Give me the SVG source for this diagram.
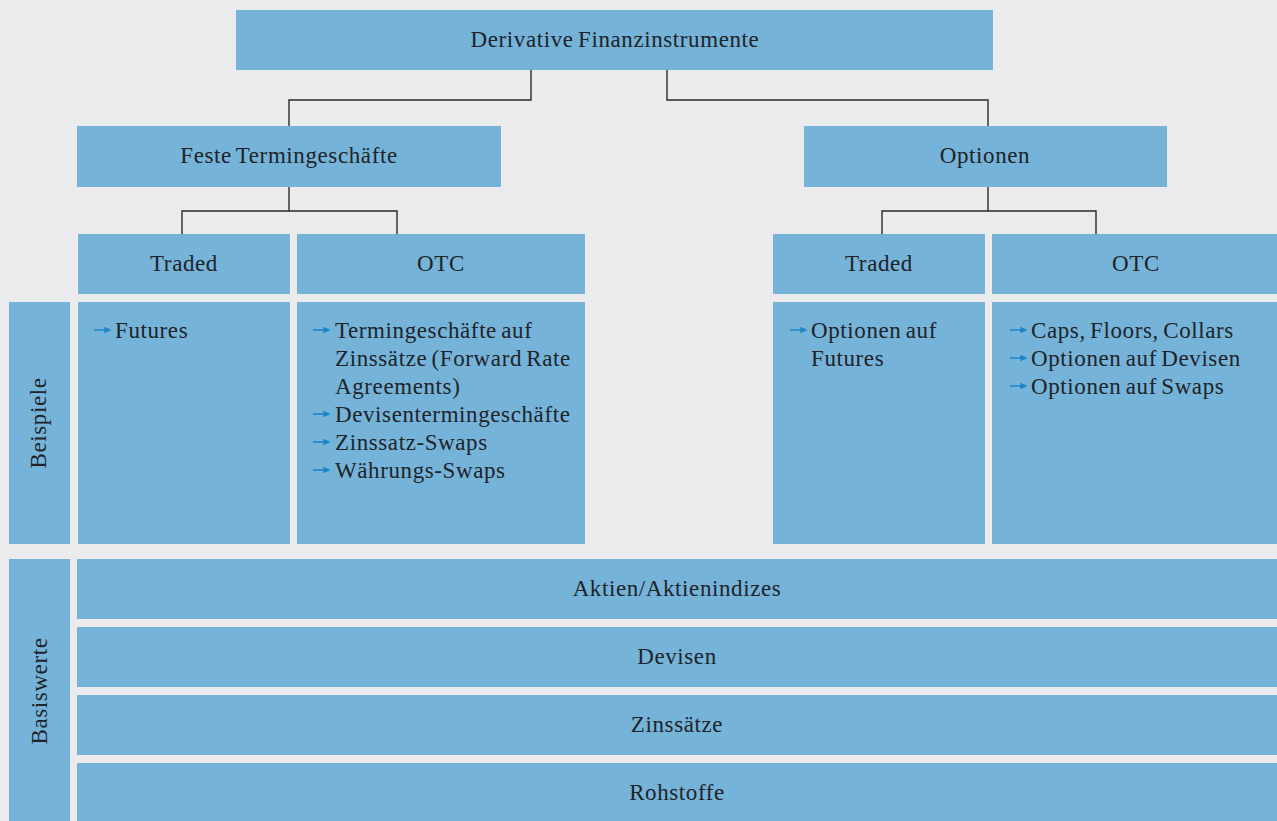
<svg xmlns="http://www.w3.org/2000/svg" width="1277" height="821" viewBox="0 0 1277 821">
  <defs>
    <!-- small blue bullet arrow -->
    <path id="bullet" d="M0,0 H12 M11,-2.2 L16,0 L11,2.2 Z" stroke="#1a86c8" stroke-width="1.3" fill="#1a86c8"/>
  </defs>
  <style>
    .box { fill: #75b3d9; }
    .lbl { font-family: "Liberation Serif", "DejaVu Serif", serif; font-size: 23px; letter-spacing: 0.6px; word-spacing: -2px; fill: #202328; }
    .c { text-anchor: middle; }
    .wire { fill: none; stroke: #2b2b2e; stroke-width: 1.4; }
  </style>
  <rect width="1277" height="821" fill="#ebebed"/>

  <!-- connectors -->
  <g id="connectors" class="wire">
    <polyline points="531,70 531,100 289,100 289,126"/>
    <polyline points="667,70 667,100 988,100 988,126"/>
    <polyline points="289,187 289,211 182,211 182,234"/>
    <polyline points="289,211 397,211 397,234"/>
    <polyline points="988,187 988,211 882,211 882,234"/>
    <polyline points="988,211 1096,211 1096,234"/>
  </g>

  <g id="root">
    <rect class="box" x="236" y="10" width="757" height="60"/>
    <text class="lbl c" x="615" y="47">Derivative Finanzinstrumente</text>
  </g>

  <g id="feste">
    <rect class="box" x="77" y="126" width="424" height="61"/>
    <text class="lbl c" x="289" y="163">Feste Termingeschäfte</text>
  </g>
  <g id="optionen">
    <rect class="box" x="804" y="126" width="363" height="61"/>
    <text class="lbl c" x="985" y="163">Optionen</text>
  </g>

  <g id="feste-traded">
    <rect class="box" x="78" y="234" width="212" height="60"/>
    <text class="lbl c" x="184" y="271">Traded</text>
  </g>
  <g id="feste-otc">
    <rect class="box" x="297" y="234" width="288" height="60"/>
    <text class="lbl c" x="441" y="271">OTC</text>
  </g>
  <g id="opt-traded">
    <rect class="box" x="773" y="234" width="212" height="60"/>
    <text class="lbl c" x="879" y="271">Traded</text>
  </g>
  <g id="opt-otc">
    <rect class="box" x="992" y="234" width="285" height="60"/>
    <text class="lbl c" x="1136" y="271">OTC</text>
  </g>

  <g id="beispiele">
    <rect class="box" x="9" y="302" width="61" height="242"/>
    <text class="lbl c" transform="translate(46,423) rotate(-90)">Beispiele</text>
  </g>

  <g id="bsp-feste-traded">
    <rect class="box" x="78" y="302" width="212" height="242"/>
    <use href="#bullet" x="94" y="330"/>
    <text class="lbl" x="115" y="338">Futures</text>
  </g>
  <g id="bsp-feste-otc">
    <rect class="box" x="297" y="302" width="288" height="242"/>
    <use href="#bullet" x="313" y="330"/>
    <text class="lbl" x="335" y="338">Termingeschäfte auf</text>
    <text class="lbl" x="335" y="366">Zinssätze (Forward Rate</text>
    <text class="lbl" x="335" y="394">Agreements)</text>
    <use href="#bullet" x="313" y="414"/>
    <text class="lbl" x="335" y="422">Devisentermingeschäfte</text>
    <use href="#bullet" x="313" y="442"/>
    <text class="lbl" x="335" y="450">Zinssatz-Swaps</text>
    <use href="#bullet" x="313" y="470"/>
    <text class="lbl" x="335" y="478">Währungs-Swaps</text>
  </g>
  <g id="bsp-opt-traded">
    <rect class="box" x="773" y="302" width="212" height="242"/>
    <use href="#bullet" x="790" y="330"/>
    <text class="lbl" x="811" y="338">Optionen auf</text>
    <text class="lbl" x="811" y="366">Futures</text>
  </g>
  <g id="bsp-opt-otc">
    <rect class="box" x="992" y="302" width="285" height="242"/>
    <use href="#bullet" x="1010" y="330"/>
    <text class="lbl" x="1031" y="338">Caps, Floors, Collars</text>
    <use href="#bullet" x="1010" y="358"/>
    <text class="lbl" x="1031" y="366">Optionen auf Devisen</text>
    <use href="#bullet" x="1010" y="386"/>
    <text class="lbl" x="1031" y="394">Optionen auf Swaps</text>
  </g>

  <g id="basiswerte">
    <rect class="box" x="9" y="559" width="61" height="262"/>
    <text class="lbl c" transform="translate(47,691) rotate(-90)">Basiswerte</text>
  </g>

  <g id="aktien">
    <rect class="box" x="77" y="559" width="1200" height="60"/>
    <text class="lbl c" x="677" y="596">Aktien/Aktienindizes</text>
  </g>
  <g id="devisen">
    <rect class="box" x="77" y="627" width="1200" height="60"/>
    <text class="lbl c" x="677" y="664">Devisen</text>
  </g>
  <g id="zinssaetze">
    <rect class="box" x="77" y="695" width="1200" height="60"/>
    <text class="lbl c" x="677" y="732">Zinssätze</text>
  </g>
  <g id="rohstoffe">
    <rect class="box" x="77" y="763" width="1200" height="58"/>
    <text class="lbl c" x="677" y="800">Rohstoffe</text>
  </g>
</svg>
